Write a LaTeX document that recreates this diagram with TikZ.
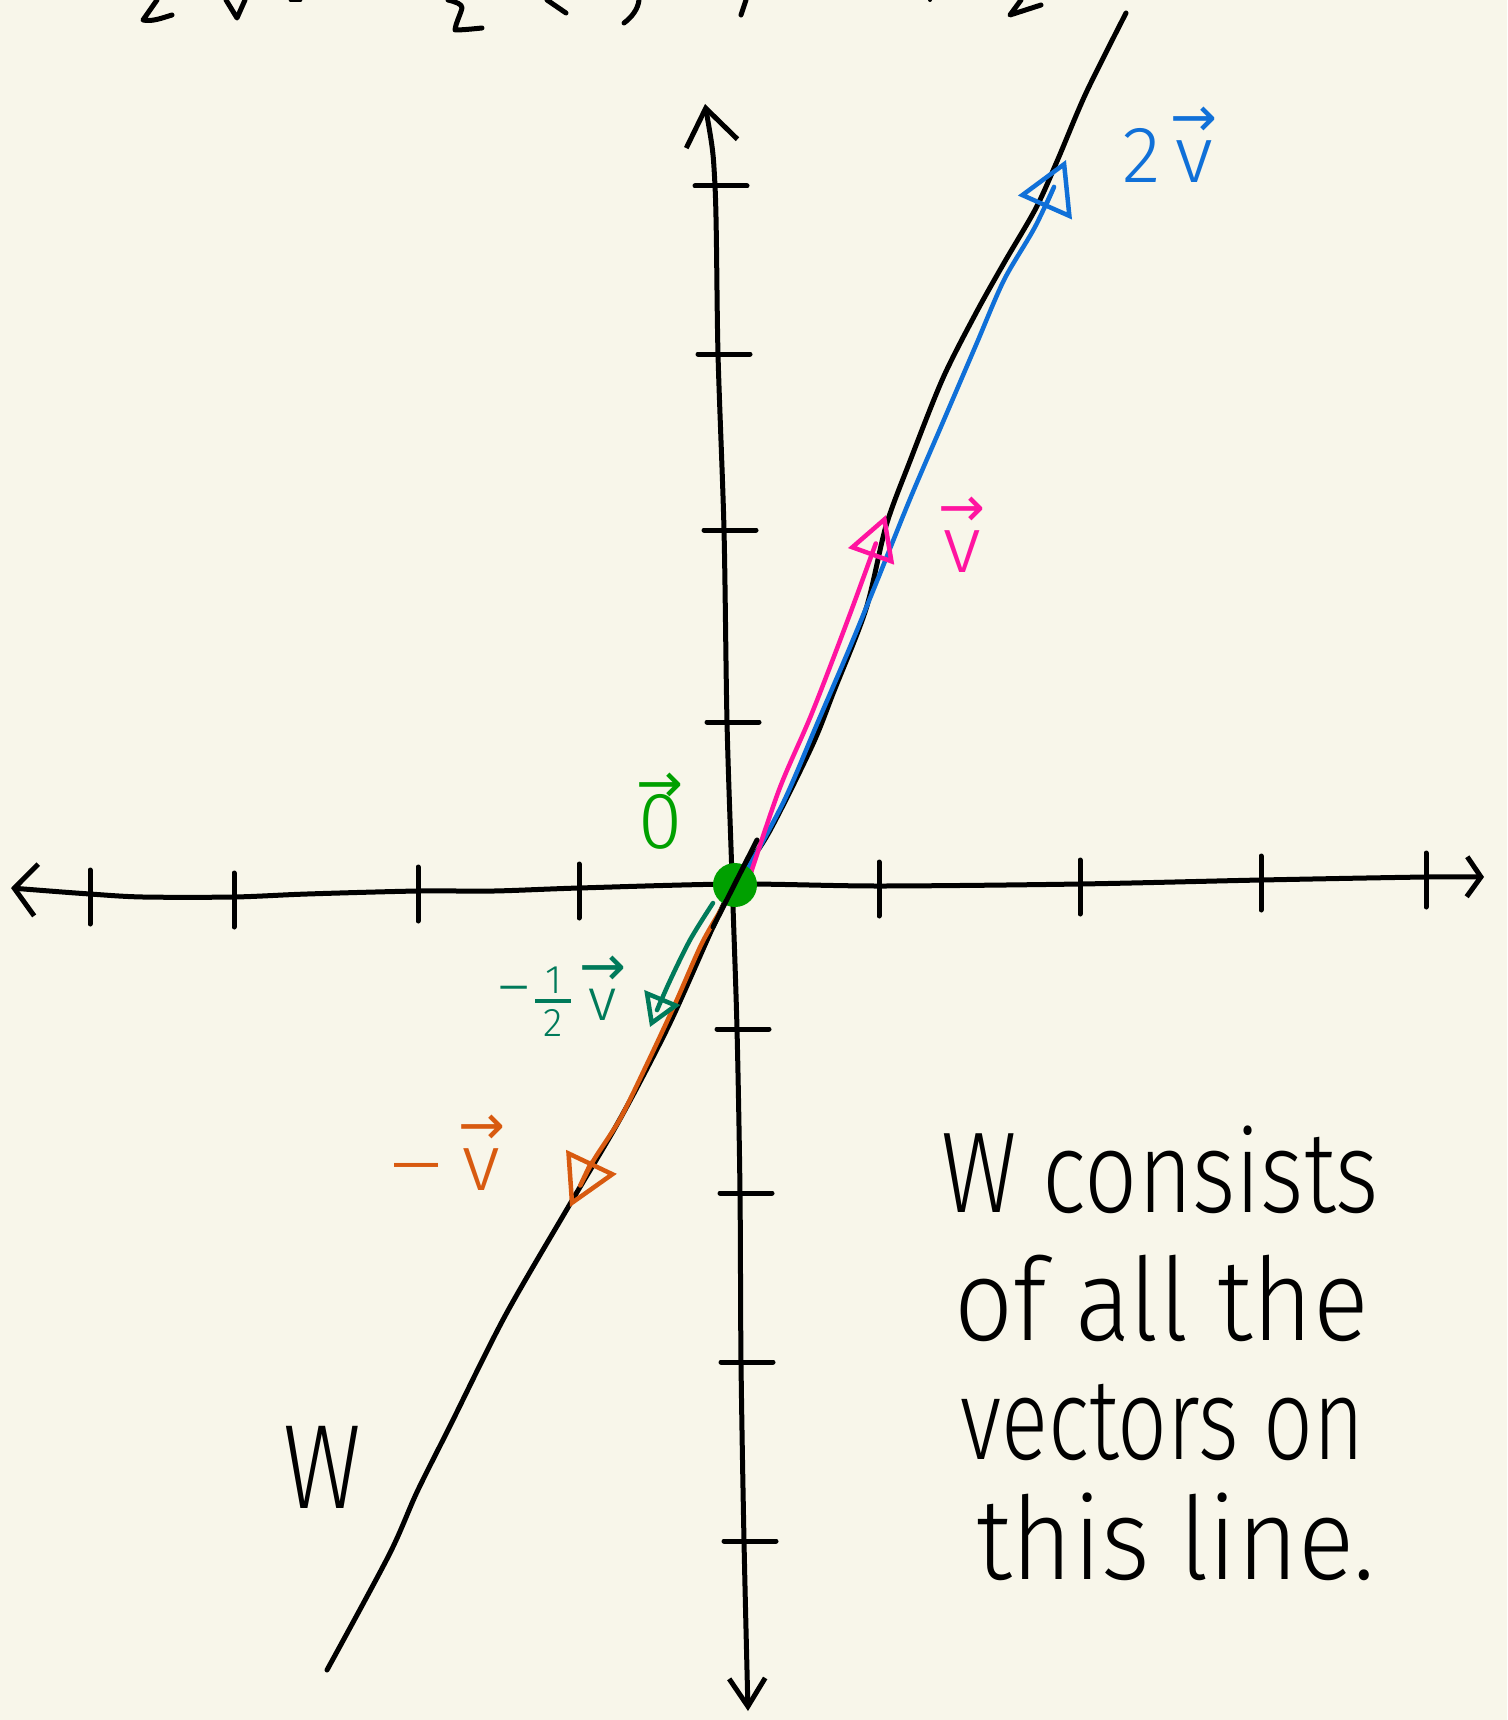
\documentclass[tikz,border=0pt]{standalone}
\usepackage{fontspec}
\IfFontExistsTF{Fira Sans Light}{\setmainfont{Fira Sans Light}}{\setmainfont{Fira Sans}}
\newfontfamily\dejavu{DejaVu Sans}
\usetikzlibrary{arrows.meta}
\definecolor{bg}{HTML}{F8F6EA}
\definecolor{vpink}{HTML}{FF14A0}
\definecolor{vblue}{HTML}{1070D8}
\definecolor{vgreen}{HTML}{00A000}
\definecolor{vteal}{HTML}{007A5A}
\definecolor{vorange}{HTML}{D85A10}
\newcommand\hvec[1]{\begin{tabular}[b]{@{}c@{}}{\dejavu\fontsize{56}{56}\selectfont\char"2192}\\[-0.45em]#1\end{tabular}}
\newcommand\hfrac[2]{\raisebox{-16pt}{\fontsize{40}{40}\selectfont\renewcommand\arraystretch{0}\begin{tabular}[b]{@{}c@{}}#1\\[6pt]\rule{36pt}{3.5pt}\\[6pt]#2\end{tabular}}}
\tikzset{
  ink/.style={line width=5pt, line cap=round, line join=round},
  axisline/.style={ink, black},
  tickline/.style={ink, black},
  vecline/.style={line width=4.5pt, line cap=round, line join=round},
  label/.style={inner sep=0pt, anchor=base, font=\fontsize{80}{82}\selectfont},
  para/.style={inner sep=0pt, anchor=base west, font=\fontsize{115}{120}\selectfont},
}
\begin{document}
\begin{tikzpicture}[x=1pt,y=-1pt]
\fill[bg] (0,0) rectangle (1507,1720);
\useasboundingbox (0,0) rectangle (1507,1720);

% cut-off text fragments at the top
\draw[ink] (157,0) -- (143,20) .. controls (152,22) and (162,18) .. (172,15);
\draw[ink] (226,0) -- (237,18) -- (245,0);
\draw[ink] (291,0) -- (300,0);
\draw[ink] (448,0) .. controls (456,2) and (462,4) .. (462,8) .. controls (460,16) and (456,22) .. (455,30) .. controls (462,30) and (472,29) .. (482,28);
\draw[ink] (547,0) -- (566,13);
\draw[ink] (639,0) .. controls (638,9) and (632,17) .. (624,23);
\draw[ink] (746,0) -- (741,15);
\fill (930,0) circle (2pt);
\draw[ink] (1021,0) -- (1010,15) -- (1041,5);

% x axis
\draw[axisline, {Straight Barb[length=22pt,width=52pt]}-{Straight Barb[length=14pt,width=40pt]}]
  plot[smooth, tension=0.5] coordinates {(11,888) (90,894) (143,897) (234,897) (307,894) (418,891) (494,891) (579,888) (735,884) (879,886) (1080,884) (1261,880) (1426,877) (1484,877)};
% y axis
\draw[axisline, {Straight Barb[length=36pt,width=52pt]}-{Straight Barb[length=28pt,width=36pt]}]
  plot[smooth, tension=0.5] coordinates {(705,104) (715,186) (718,354) (724,530) (727,722) (732,877) (737,1029) (740,1193) (741,1362) (744,1541) (748,1711)};

% x ticks
\foreach \x/\y in {90/894, 234/897, 418/891, 579/888, 879/886, 1080/884, 1261/880, 1426/877}
  \draw[tickline] (\x,\y-24) -- (\x,\y+30);
% y ticks
\foreach \x/\y in {715/186, 718/354, 724/530, 727/722, 737/1029, 740/1193, 741/1362, 744/1541}
  \draw[tickline] (\x-20,\y) -- (\x+32,\y);

% line W
\draw[ink] plot[smooth, tension=0.5] coordinates {(327,1670) (389,1555) (417,1492) (450,1426) (505,1316) (570,1204) (620,1119) (669,1025) (713,927) (735,883) (768,834) (812,746) (834,691) (866,609) (886,526) (910,461) (943,378) (976,313) (1004,263) (1036,208) (1058,159) (1086,93) (1126,13)};

% vectors
\coordinate (O) at (735,885);
\draw[vecline, vblue, -{Triangle[open, length=52pt, width=58pt]}]
  plot[smooth, tension=0.5] coordinates {(746,872) (784,801) (817,724) (850,647) (877,581) (910,499) (943,422) (976,345) (1004,280) (1036,225) (1066,160)};
\draw[vecline, vpink, -{Triangle[open, length=44pt, width=48pt]}]
  plot[smooth, tension=0.5] coordinates {(746,888) (779,790) (812,713) (850,614) (886,515)};
\draw[vecline, vorange, -{Triangle[open, length=50pt, width=55pt]}]
  plot[smooth, tension=0.5] coordinates {(724,905) (702,943) (675,1004) (647,1064) (620,1119) (592,1163) (570,1207)};
\draw[vecline, vteal, -{Triangle[open, length=32pt, width=38pt]}]
  plot[smooth, tension=0.5] coordinates {(713,903) (690,940) (668,985) (650,1027)};
\fill[vgreen] (O) circle (22pt);
\draw[ink] (713,927) -- (757,840);

% labels
\node[label, anchor=base west, text=vblue] (l2v) at (1122,183) {2\hspace{10pt}\hvec{v}};
\node[label, text=vpink] (lv) at (962,572) {\hvec{v}};
\node[label, text=vgreen] (l0) at (660,848) {\hvec{0}};
\node[label, anchor=base west, text=vteal, font=\fontsize{60}{62}\selectfont] (lhalf) at (498,1020) {\raisebox{14pt}{–}\hspace{6pt}\hfrac{1}{2}\hspace{8pt}\hvec{v}};
\node[label, anchor=base west, text=vorange] (lneg) at (390,1190) {\scalebox{1.25}[1]{–}\hspace{16pt}\hvec{v}};
\node[inner sep=0pt, anchor=base, font=\fontsize{120}{120}\selectfont] (lw) at (322,1508) {\scalebox{0.8}[1]{W}};

% paragraph
\node[para] (p1) at (941,1212) {\scalebox{0.81}[1]{W consists}};
\node[para] (p2) at (954,1340) {\scalebox{0.90}[1]{of all the}};
\node[para] (p3) at (960,1459) {\scalebox{0.76}[1]{vectors on}};
\node[para] (p4) at (976,1579) {\scalebox{0.91}[1]{this line.}};
\end{tikzpicture}
\end{document}
